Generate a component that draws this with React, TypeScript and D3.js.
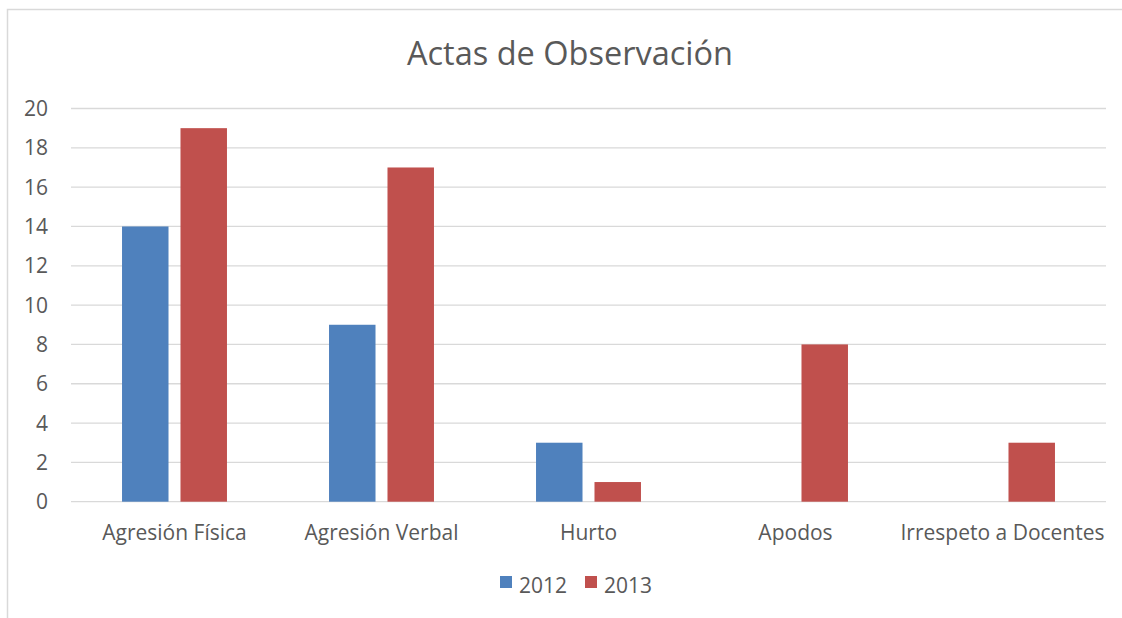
import React from 'react'
import * as d3 from 'd3'

const categories = ['Agresión Física', 'Agresión Verbal', 'Hurto', 'Apodos', 'Irrespeto a Docentes']
const seriesNames = ['2012', '2013']
const values2012 = [14, 9, 3, 0, 0]
const values2013 = [19, 17, 1, 8, 3]
const yTicks = [0, 2, 4, 6, 8, 10, 12, 14, 16, 18, 20]
const colors = ['#4F81BD', '#C0504D']

const FONT = '"Open Sans", sans-serif'
const TEXT = '#595959'
const GRID = '#D9D9D9'

export default function App() {
  const width = 1122
  const height = 618
  const plot = {left: 71, right: 1106, top: 108.5, bottom: 501.7}

  const series = [values2012, values2013]

  const x0 = d3.scaleBand<string>()
    .domain(categories)
    .range([plot.left, plot.right])
    .paddingInner(0.493)
    .paddingOuter(0.2465)
  const x1 = d3.scaleBand<string>()
    .domain(seriesNames)
    .range([0, x0.bandwidth()])
    .paddingInner(0.205)
  const y = d3.scaleLinear().domain([0, 20]).range([plot.bottom, plot.top])

  return <svg {...{width, height}} style={{position: 'absolute', left: 0, top: 0, background: '#fff'}}>
    <rect x={7.5} y={9.5} width={1120} height={620} fill="#fff" stroke={GRID} strokeWidth={1.5} />
    <text x={570} y={64.5} textAnchor="middle" fontFamily={FONT} fontSize={32.5} fill={TEXT}>
      Actas de Observación
    </text>
    {yTicks.map(t => <g key={t}>
      <line x1={plot.left} x2={plot.right} y1={y(t)} y2={y(t)} stroke={GRID} strokeWidth={1.3} />
      <text x={48} y={y(t)} dy="0.36em" textAnchor="end" fontFamily={FONT} fontSize={21} fill={TEXT}>{t}</text>
    </g>)}
    {categories.map((c, ci) => <g key={c} transform={`translate(${x0(c)},0)`}>
      {seriesNames.map((s, si) => {
        const v = series[si][ci]
        if (!v) return null
        return <rect key={s} x={x1(s)} y={y(v)} width={x1.bandwidth()} height={y(0) - y(v)} fill={colors[si]} />
      })}
      <text x={x0.bandwidth() / 2} y={540} textAnchor="middle" fontFamily={FONT} fontSize={21} fill={TEXT}>{c}</text>
    </g>)}
    <g>
      {seriesNames.map((s, si) => {
        const lx = 500 + si * 85
        return <g key={s}>
          <rect x={lx} y={576} width={12} height={12} fill={colors[si]} />
          <text x={lx + 19} y={593} fontFamily={FONT} fontSize={21} fill={TEXT}>{s}</text>
        </g>
      })}
    </g>
  </svg>
}
